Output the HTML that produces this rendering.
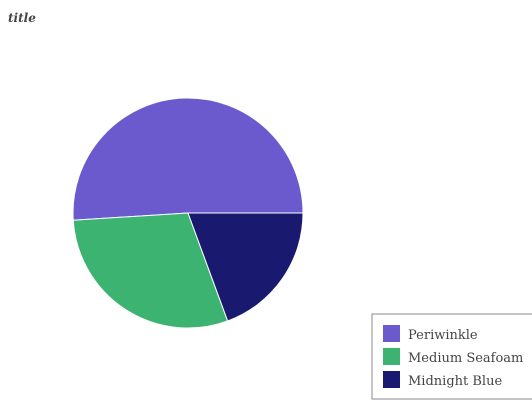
<!DOCTYPE html>
<html><head><meta charset="utf-8"><style>
body{margin:0;background:#fff;width:532px;height:400px;overflow:hidden;font-family:"DejaVu Serif","Liberation Serif",serif}
</style></head><body>
<svg width="532" height="400">
<text x="8" y="22" font-size="12" font-style="italic" font-weight="bold" fill="#444">title</text>
<g id="slices"></g>
<rect x="372" y="314" width="170" height="85" fill="#fff" stroke="#888"/>
<g id="legend"></g>
</svg>
<script>
const labels=["Periwinkle","Medium Seafoam","Midnight Blue"];
const values=[51,29.6,19.4];
const colors=["#6a5acd","#3cb371","#191970"];
const cx=188,cy=213,r=115;
const total=values.reduce((a,b)=>a+b,0);
const ns="http://www.w3.org/2000/svg";
let a=0;
const g=document.getElementById('slices');
values.forEach((v,i)=>{
 const a2=a+v/total*2*Math.PI;
 const x1=cx+r*Math.cos(a),y1=cy-r*Math.sin(a),x2=cx+r*Math.cos(a2),y2=cy-r*Math.sin(a2);
 const p=document.createElementNS(ns,'path');
 p.setAttribute('d',`M${cx},${cy}L${x1},${y1}A${r},${r} 0 ${a2-a>Math.PI?1:0} 0 ${x2},${y2}Z`);
 p.setAttribute('fill',colors[i]);
 p.setAttribute('stroke','#fff');p.setAttribute('stroke-width','1');
 
 
 g.appendChild(p);a=a2;
});
const lg=document.getElementById('legend');
labels.forEach((l,i)=>{
 const y=325+i*23;
 const s=document.createElementNS(ns,'rect');
 s.setAttribute('x',383);s.setAttribute('y',y);s.setAttribute('width',17);s.setAttribute('height',17);s.setAttribute('fill',colors[i]);
 
 
 lg.appendChild(s);
 const t=document.createElementNS(ns,'text');
 t.setAttribute('x',408);t.setAttribute('y',y+14);t.setAttribute('font-size','13');t.setAttribute('fill','#444');
 t.textContent=l;
 
 
 lg.appendChild(t);
});
</script>
</body></html>
